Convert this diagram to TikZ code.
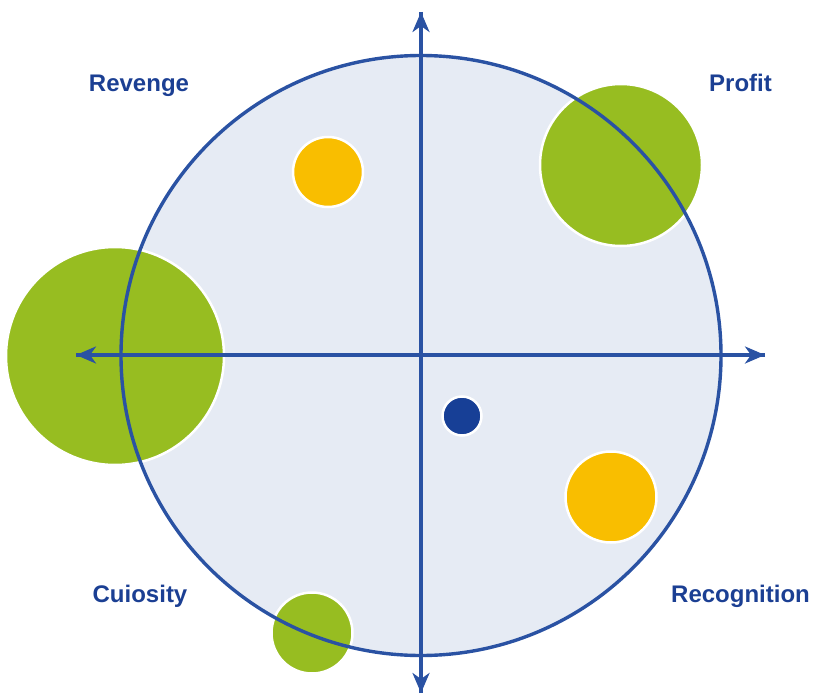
\documentclass[tikz,border=0pt]{standalone}
\usepackage{fontspec}
\setmainfont{Liberation Sans}
\usetikzlibrary{arrows.meta}
\definecolor{lineblue}{HTML}{2A52A3}
\definecolor{textblue}{HTML}{1B3F93}
\definecolor{fillblue}{HTML}{E6EBF4}
\definecolor{leafgreen}{HTML}{97BD21}
\definecolor{sun}{HTML}{F9BE00}
\definecolor{dotblue}{HTML}{173F96}
\tikzset{
  bubble/.style={circle, draw=white, line width=2.5pt, inner sep=0pt, minimum size=#1},
  lbl/.style={font=\bfseries\fontsize{24}{28}\selectfont, text=textblue, anchor=base},
  axis/.style={draw=lineblue, line width=3.4pt, -{Stealth[length=20pt,width=17pt,inset=6pt]}}
}
\begin{document}
\begin{tikzpicture}[x=1pt,y=-1pt]
\useasboundingbox (0,0) rectangle (813,695);
% big circle fill
\fill[fillblue] (421,355.5) circle (300);
% bubbles
\node[bubble=70pt, fill=sun] (y1) at (328,172) {};
\node[bubble=162pt, fill=leafgreen] (g1) at (621,165) {};
\node[bubble=218pt, fill=leafgreen] (g2) at (115,356) {};
\node[bubble=39pt, fill=dotblue] (b1) at (462,416) {};
\node[bubble=91pt, fill=sun] (y2) at (611,497) {};
\node[bubble=81pt, fill=leafgreen] (g3) at (312,633) {};
% big circle outline
\node[circle, draw=lineblue, line width=3.4pt, inner sep=0pt, minimum size=600pt] (big) at (421,355.5) {};
% axes
\coordinate (top) at (421,12);
\coordinate (bot) at (421,693);
\coordinate (lft) at (76,355);
\coordinate (rgt) at (765,355);
\draw[axis] (bot) -- (top);
\draw[axis] (top) -- (bot);
\draw[axis] (rgt) -- (lft);
\draw[axis] (lft) -- (rgt);
% labels
\node[lbl] (rev) at (139,92) {Revenge};
\node[lbl] (pro) at (740.5,92) {Profit};
\node[lbl] (cui) at (140,602) {Cuiosity};
\node[lbl] (rec) at (740.5,602) {Recognition};
\end{tikzpicture}
\end{document}
